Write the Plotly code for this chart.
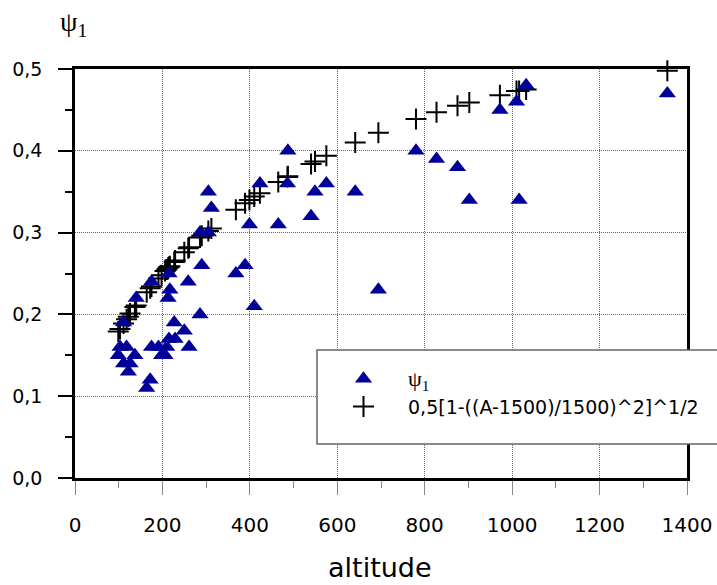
import plotly.graph_objects as go

# Measured data (altitude, psi_1)
altitude = [99, 103, 111, 111, 118, 122, 126, 137, 140, 164, 172, 175, 175, 191, 198,
            206, 210, 213, 215, 215, 217, 227, 229, 250, 261, 259, 286, 290, 286, 305,
            305, 312, 368, 389, 399, 410, 423, 465, 487, 486, 540, 549, 575, 641, 694,
            780, 827, 875, 902, 972, 1010, 1016, 1032, 1355]
psi1 = [0.15, 0.16, 0.19, 0.14, 0.16, 0.13, 0.14, 0.15, 0.22, 0.11, 0.12, 0.16, 0.24, 0.16, 0.15,
        0.15, 0.16, 0.22, 0.17, 0.25, 0.23, 0.19, 0.17, 0.18, 0.16, 0.24, 0.20, 0.26, 0.30, 0.30,
        0.35, 0.33, 0.25, 0.26, 0.31, 0.21, 0.36, 0.31, 0.40, 0.36, 0.32, 0.35, 0.36, 0.35, 0.23,
        0.40, 0.39, 0.38, 0.34, 0.45, 0.46, 0.34, 0.48, 0.47]

# Model curve points
model_alt = [99, 103, 111, 118, 122, 126, 137, 140, 164, 172, 175, 191, 198, 206, 210,
             213, 215, 217, 227, 229, 250, 259, 261, 286, 290, 305, 312, 368, 389, 399,
             410, 423, 465, 486, 487, 540, 549, 575, 641, 694, 780, 827, 875, 902, 972,
             1010, 1016, 1032, 1355]
model_val = [0.179, 0.182, 0.189, 0.194, 0.197, 0.201, 0.209, 0.211, 0.227, 0.232, 0.234, 0.244, 0.248, 0.253, 0.255,
             0.257, 0.258, 0.259, 0.264, 0.266, 0.276, 0.281, 0.282, 0.294, 0.296, 0.302, 0.305, 0.328, 0.336, 0.340,
             0.344, 0.348, 0.362, 0.368, 0.369, 0.384, 0.387, 0.394, 0.410, 0.422, 0.439, 0.447, 0.455, 0.459, 0.468,
             0.473, 0.473, 0.475, 0.498]

x_ticks = [0, 200, 400, 600, 800, 1000, 1200, 1400]
y_ticks = [0.0, 0.1, 0.2, 0.3, 0.4, 0.5]

SANS = "DejaVu Sans"
SERIF = "Liberation Serif"

fig = go.Figure()
fig.add_trace(go.Scatter(
    x=model_alt, y=model_val, mode="markers",
    name="0,5[1-((A-1500)/1500)^2]^1/2",
    marker=dict(symbol="cross-thin", size=15, line=dict(color="black", width=2), color="black"),
    cliponaxis=False,
))
fig.add_trace(go.Scatter(
    x=altitude, y=psi1, mode="markers",
    name='<span style="font-family:Liberation Serif;font-size:22px">ψ<sub>1</sub></span>',
    marker=dict(symbol="triangle-up", size=15, color="#000099", line=dict(width=0)),
    cliponaxis=False,
))

L, R, T, B = 75, 30, 69, 107
W, H = 717, 585
pw = W - L - R
ph = H - T - B

def px_x(p):
    return (p - L) / pw

def px_y(p):
    return (H - B - p) / ph

fig.update_layout(
    width=W, height=H,
    margin=dict(l=L, r=R, t=T, b=B, autoexpand=False),
    paper_bgcolor="white", plot_bgcolor="white",
    separators=", ",
    font=dict(family=SANS, color="black"),
    showlegend=True,
    legend=dict(
        x=px_x(319), y=px_y(360), xanchor="left", yanchor="top",
        bgcolor="rgba(0,0,0,0)", borderwidth=0,
        font=dict(family=SANS, size=19, color="black"),
        traceorder="reversed", itemwidth=79,
    ),
    xaxis=dict(
        range=[0, 1400], tickvals=x_ticks, ticktext=[str(v) for v in x_ticks],
        showgrid=True, gridcolor="#666666", gridwidth=1, griddash="1px,1px",
        showline=True, linecolor="black", linewidth=2.5, mirror=True,
        ticks="outside", ticklen=14, tickcolor="#888888", tickwidth=1,
        ticklabelstandoff=13,
        minor=dict(dtick=100, ticklen=7, tickcolor="#888888", ticks="outside", showgrid=False),
        tickfont=dict(family=SANS, size=20, color="black"),
        zeroline=False,
    ),
    yaxis=dict(
        range=[0, 0.5], tickvals=y_ticks, tickformat=".1f",
        showgrid=True, gridcolor="#666666", gridwidth=1, griddash="1px,1px",
        showline=True, linecolor="black", linewidth=2.5, mirror=True,
        ticks="outside", ticklen=14, tickcolor="black", tickwidth=1.5,
        ticklabelstandoff=12,
        minor=dict(dtick=0.05, ticklen=7, tickcolor="black", ticks="outside", showgrid=False),
        tickfont=dict(family=SANS, size=19, color="black"),
        zeroline=False,
    ),
    shapes=[dict(
        type="rect", xref="paper", yref="paper",
        x0=px_x(317), x1=px_x(722), y0=px_y(444), y1=px_y(350),
        fillcolor="white", line=dict(color="#666666", width=1.5), layer="above",
    )],
    annotations=[
        dict(text="altitude", xref="paper", yref="paper", x=px_x(380), y=px_y(567),
             xanchor="center", yanchor="middle", showarrow=False,
             font=dict(family=SANS, size=27, color="black")),
        dict(text="ψ<sub>1</sub>", xref="paper", yref="paper", x=px_x(58), y=px_y(23),
             xanchor="left", yanchor="middle", showarrow=False,
             font=dict(family=SERIF, size=28, color="black")),
    ],
)

fig.write_html("out.html", config={"displayModeBar": False},
               post_script="document.body.style.margin='0';document.body.style.padding='0';")
